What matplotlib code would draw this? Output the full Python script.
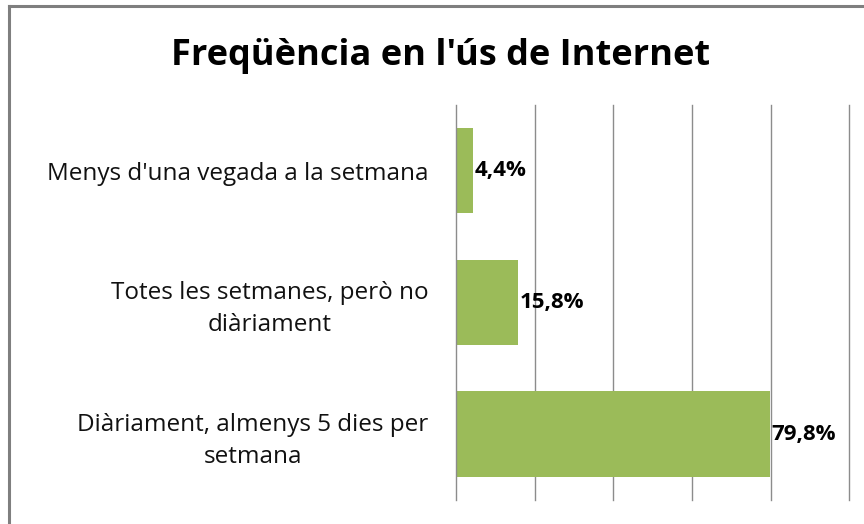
import matplotlib
matplotlib.use("Agg")
import matplotlib.pyplot as plt
from matplotlib.lines import Line2D

# Data
categories = ["Menys d'una vegada a la setmana",
              "Totes les setmanes, però no\ndiàriament",
              "Diàriament, almenys 5 dies per\nsetmana"]
values = [4.4, 15.8, 79.8]
labels = ["4,4%", "15,8%", "79,8%"]
gridpos = [0, 20, 40, 60, 80, 100]

bar_color = "#9BBB59"
grid_color = "#8c8c8c"

fig = plt.figure(figsize=(8.64, 5.24), dpi=100)
ax = fig.add_axes([0.528, 0.046, 0.455, 0.754])

ypos = range(len(categories))
ax.barh(ypos, values, height=0.65, color=bar_color, zorder=3)
ax.set_xlim(0, 100)
ax.set_ylim(2.5, -0.5)
ax.set_xticks([])
ax.tick_params(axis="y", length=0, pad=20)
for g in gridpos:
    ax.axvline(g, color=grid_color, linewidth=1.0, zorder=1 if g else 4,
               clip_on=False)
for s in ax.spines.values():
    s.set_visible(False)

ax.set_yticks(list(ypos))
ax.set_yticklabels(categories, fontsize=17.5, family="Open Sans",
                   multialignment="center", color="#111111", linespacing=1.45)

for y, v, t in zip(ypos, values, labels):
    ax.text(v + 0.4, y, t, va="center", ha="left", fontsize=16,
            fontweight="bold", family="Open Sans", zorder=5)

fig.text(0.510, 0.893, "Freqüència en l'ús de Internet", ha="center",
         va="center", fontsize=26, fontweight="bold", family="Open Sans")

# outer chart border (top and left visible)
fig.add_artist(Line2D([8.5 / 864, 8.5 / 864], [0, 1 - 5.5 / 524],
                      color="#7f7f7f", linewidth=2.2, transform=fig.transFigure))
fig.add_artist(Line2D([8.5 / 864, 1], [1 - 5.5 / 524, 1 - 5.5 / 524],
                      color="#7f7f7f", linewidth=2.2, transform=fig.transFigure))

fig.savefig("out.png", dpi=100, facecolor="white")
